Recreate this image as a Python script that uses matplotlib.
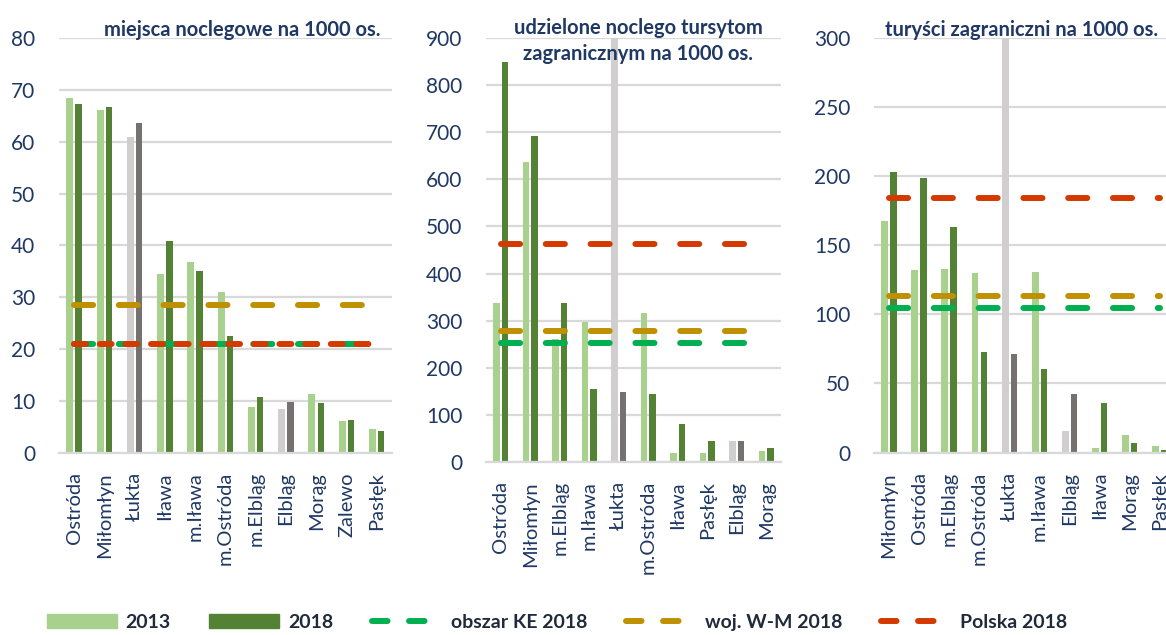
import matplotlib
matplotlib.use('Agg')
import matplotlib.pyplot as plt
from matplotlib.patches import Patch
from matplotlib.lines import Line2D

plt.rcParams['font.family'] = ['Lato', 'DejaVu Sans']

# panel 1: miejsca noclegowe
kat1 = ['Ostróda', 'Miłomłyn', 'Łukta', 'Iława', 'm.Iława', 'm.Ostróda',
        'm.Elbląg', 'Elbląg', 'Morąg', 'Zalewo', 'Pasłęk']
v1_2013 = [68.5, 66.2, 61.0, 34.5, 36.8, 31.0, 8.8, 8.5, 11.3, 6.1, 4.6]
v1_2018 = [67.3, 66.8, 63.7, 40.8, 35.1, 22.5, 10.8, 9.8, 9.6, 6.3, 4.1]
ke1, woj1, pl1 = 20.9, 28.6, 20.9

# panel 2: udzielone noclegi
kat2 = ['Ostróda', 'Miłomłyn', 'm.Elbląg', 'm.Iława', 'Łukta', 'm.Ostróda',
        'Iława', 'Pasłęk', 'Elbląg', 'Morąg']
v2_2013 = [338, 637, 260, 297, 1100, 316, 18, 18, 43, 23]
v2_2018 = [850, 692, 337, 154, 149, 144, 81, 45, 43, 29]
ke2, woj2, pl2 = 252, 277, 462

# panel 3: turyści zagraniczni
kat3 = ['Miłomłyn', 'Ostróda', 'm.Elbląg', 'm.Ostróda', 'Łukta', 'm.Iława',
        'Elbląg', 'Iława', 'Morąg', 'Pasłęk']
v3_2013 = [168, 132, 133, 130, 350, 131, 15.5, 3.5, 13, 5]
v3_2018 = [203, 199, 163, 73, 71, 60.5, 42.5, 36, 7, 2]
ke3, woj3, pl3 = 105, 113.5, 184

gray_cats = ['Łukta', 'Elbląg']

C13 = '#a9d18e'
C18 = '#548235'
G13 = '#d0cece'
G18 = '#767171'
C_KE = '#00b050'
C_WOJ = '#bf9000'
C_PL = '#d43a00'
NAVY = '#1f3864'
GRID = '#d9d9d9'

LW = 4.3
DASH = (0, (3.2, 4.3))


def panel(ax, kat, a, b, ke, woj, pl, ymax, ystep, title, tx, ty, ha, pl_dash=DASH):
    n = len(kat)
    x = list(range(n))
    c1 = [G13 if k in gray_cats else C13 for k in kat]
    c2 = [G18 if k in gray_cats else C18 for k in kat]
    ax.bar([i - 0.145 for i in x], a, width=0.23, color=c1, zorder=2)
    ax.bar([i + 0.145 for i in x], b, width=0.21, color=c2, zorder=2)
    ax.plot(x, [ke] * n, color=C_KE, lw=LW, ls=DASH, dash_capstyle='round', zorder=3)
    ax.plot(x, [woj] * n, color=C_WOJ, lw=LW, ls=DASH, dash_capstyle='round', zorder=3)
    ax.plot(x, [pl] * n, color=C_PL, lw=LW, ls=pl_dash, dash_capstyle='round', zorder=4)
    ax.set_xlim(-0.5, n - 0.5)
    ax.set_ylim(0, ymax)
    ax.set_yticks(range(0, ymax + 1, ystep))
    ax.set_xticks(x)
    ax.set_xticklabels(kat, rotation=90, fontsize=14.5, color=NAVY)
    ax.tick_params(axis='y', length=0, pad=17, labelsize=15, labelcolor=NAVY)
    ax.tick_params(axis='x', length=0, pad=14)
    ax.grid(axis='y', color=GRID, lw=1.6, zorder=0)
    ax.set_axisbelow(True)
    for s in ['top', 'right', 'left']:
        ax.spines[s].set_visible(False)
    ax.spines['bottom'].set_color(GRID)
    ax.spines['bottom'].set_linewidth(1.6)
    ax.text(tx, ty, title, transform=ax.figure.transFigure, ha=ha, va='center',
            fontsize=14.5, fontweight='bold', color=NAVY, linespacing=1.4)


fig = plt.figure(figsize=(11.66, 6.35), dpi=100)
ax1 = fig.add_axes([0.0506, 0.2871, 0.2856, 0.6526])
ax2 = fig.add_axes([0.4168, 0.2729, 0.2530, 0.6668])
ax3 = fig.add_axes([0.7496, 0.2874, 0.2581, 0.6523])

panel(ax1, kat1, v1_2013, v1_2018, ke1, woj1, pl1, 80, 10,
      'miejsca noclegowe na 1000 os.', 381 / 1166, 1 - 30 / 635, 'right',
      pl_dash=(0, (2.0, 2.3)))
panel(ax2, kat2, v2_2013, v2_2018, ke2, woj2, pl2, 900, 100,
      'udzielone noclego tursytom\nzagranicznym na 1000 os.', 638 / 1166, 1 - 41 / 635, 'center')
panel(ax3, kat3, v3_2013, v3_2018, ke3, woj3, pl3, 300, 50,
      'turyści zagraniczni na 1000 os.', 1158 / 1166, 1 - 30 / 635, 'right')

handles = [
    Patch(color=C13),
    Patch(color=C18),
    Line2D([], [], color=C_KE, lw=LW, ls=(0, (2.6, 3.6)), dash_capstyle='round'),
    Line2D([], [], color=C_WOJ, lw=LW, ls=(0, (2.6, 3.6)), dash_capstyle='round'),
    Line2D([], [], color=C_PL, lw=LW, ls=(0, (2.6, 3.6)), dash_capstyle='round'),
]
labels = ['2013', '2018', 'obszar KE 2018', 'woj. W-M 2018', 'Polska 2018']
fig.legend(handles, labels, loc='center left', bbox_to_anchor=(0.025, 0.02),
           ncol=5, frameon=False, handlelength=3.6, handletextpad=0.45,
           columnspacing=2.0,
           prop={'weight': 'bold', 'size': 14})
for t in fig.legends[0].get_texts():
    t.set_color('#1f2a3a')

fig.savefig('out.png', dpi=100)
